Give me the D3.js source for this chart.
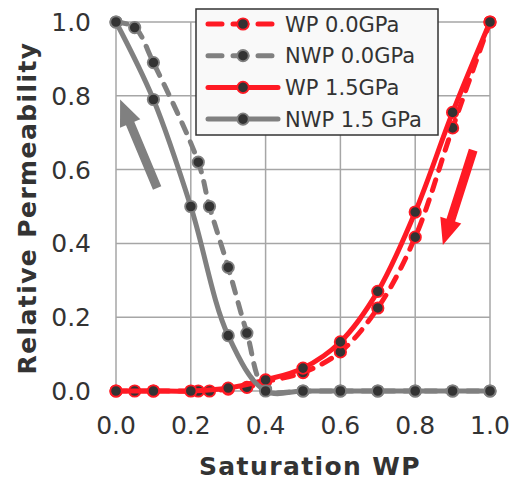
<!DOCTYPE html>
<meta charset="utf-8">
<html>
<head>
    <style>
        body { margin: 0; background: #fff; }
        .grid line { stroke: #a6a6a6; stroke-width: 1.5px; }
        .tick-label { font: 25px "DejaVu Sans", sans-serif; fill: #333; }
        .axis-title { font: bold 25px "DejaVu Sans", sans-serif; fill: #333; letter-spacing: 1.4px; }
        .legend text { font: 21px "DejaVu Sans", sans-serif; fill: #333; }
    </style>
    <script src="https://d3js.org/d3.v7.min.js"></script>
</head>
<body>
<svg id="svg" width="512" height="481"></svg>
<script>

    // saturation values of the two data sets
    var sw00 = [0, 0.05, 0.1, 0.22, 0.25, 0.3, 0.35, 0.4, 0.5, 0.6, 0.7, 0.8, 0.9, 1.0];
    var sw15 = [0, 0.1, 0.2, 0.3, 0.4, 0.5, 0.6, 0.7, 0.8, 0.9, 1.0];

    var wp00  = [0, 0, 0, 0, 0, 0.005, 0.01, 0.025, 0.05, 0.106, 0.225, 0.417, 0.713, 1.0];
    var nwp00 = [1.0, 0.985, 0.89, 0.62, 0.50, 0.335, 0.157, 0.005, 0, 0, 0, 0, 0, 0];
    var wp15  = [0, 0, 0, 0.008, 0.03, 0.062, 0.133, 0.27, 0.485, 0.755, 1.0];
    var nwp15 = [1.0, 0.79, 0.50, 0.15, 0, 0, 0, 0, 0, 0, 0];

    var ticks = [0, 0.2, 0.4, 0.6, 0.8, 1.0];

    // arrows [from, to] in data units
    var grayArrow = [[0.11, 0.55], [0.011, 0.79]];
    var redArrow = [[0.955, 0.653], [0.874, 0.396]];

    var series = [
        {name: "WP 0.0GPa", x: sw00, y: wp00, color: "#ff1a24", dash: true},
        {name: "NWP 0.0GPa", x: sw00, y: nwp00, color: "#808080", dash: true},
        {name: "WP 1.5GPa", x: sw15, y: wp15, color: "#ff1a24", dash: false},
        {name: "NWP 1.5 GPa", x: sw15, y: nwp15, color: "#808080", dash: false}
    ];

    var svg = d3.select("svg"),
        margin = {top: 22, right: 22, bottom: 90, left: 116},
        width = +svg.attr("width") - margin.left - margin.right,
        height = +svg.attr("height") - margin.top - margin.bottom,
        g = svg.append("g").attr("transform", "translate(" + margin.left + "," + margin.top + ")");

    var x = d3.scaleLinear().domain([0, 1]).range([0, width]);
    var y = d3.scaleLinear().domain([0, 1]).range([height, 0]);

    var grid = g.append("g").attr("class", "grid");
    grid.selectAll(".v").data(ticks).enter().append("line")
        .attr("x1", function (d) { return x(d); }).attr("x2", function (d) { return x(d); })
        .attr("y1", 0).attr("y2", height);
    grid.selectAll(".h").data(ticks).enter().append("line")
        .attr("y1", function (d) { return y(d); }).attr("y2", function (d) { return y(d); })
        .attr("x1", 0).attr("x2", width);

    g.selectAll(".xl").data(ticks).enter().append("text")
        .attr("class", "tick-label")
        .attr("x", function (d) { return x(d); })
        .attr("y", height + 43)
        .attr("text-anchor", "middle")
        .text(function (d) { return d.toFixed(1); });

    g.selectAll(".yl").data(ticks).enter().append("text")
        .attr("class", "tick-label")
        .attr("x", -25)
        .attr("y", function (d) { return y(d); })
        .attr("dy", "0.36em")
        .attr("text-anchor", "end")
        .text(function (d) { return d.toFixed(1); });

    svg.append("text").attr("class", "axis-title")
        .attr("x", margin.left + x(0.5) + 7)
        .attr("y", 475)
        .attr("text-anchor", "middle")
        .text("Saturation WP");

    svg.append("text").attr("class", "axis-title")
        .attr("transform", "translate(36,208) rotate(-90)")
        .attr("text-anchor", "middle")
        .text("Relative Permeability");

    // arrows
    function arrowPath(a) {
        var x0 = x(a[0][0]), y0 = y(a[0][1]), x1 = x(a[1][0]), y1 = y(a[1][1]);
        var dx = x1 - x0, dy = y1 - y0, len = Math.sqrt(dx * dx + dy * dy);
        var ux = dx / len, uy = dy / len, nx = -uy, ny = ux;
        var sw = 4.5, hw = 11, hl = 26;
        var bx = x1 - ux * hl, by = y1 - uy * hl;
        var pts = [
            [x0 + nx * sw, y0 + ny * sw],
            [bx + nx * sw, by + ny * sw],
            [bx + nx * hw, by + ny * hw],
            [x1, y1],
            [bx - nx * hw, by - ny * hw],
            [bx - nx * sw, by - ny * sw],
            [x0 - nx * sw, y0 - ny * sw]
        ];
        return "M" + pts.join("L") + "Z";
    }
    g.append("path").attr("d", arrowPath(grayArrow)).attr("fill", "#808080");
    g.append("path").attr("d", arrowPath(redArrow)).attr("fill", "#ff1a24");

    var line = d3.line()
        .x(function (d) { return x(d[0]); })
        .y(function (d) { return y(d[1]); })
        .curve(d3.curveCatmullRom.alpha(0.5));

    series.forEach(function (s) {
        var pts = s.x.map(function (v, i) { return [v, s.y[i]]; });
        g.append("path")
            .attr("d", line(pts))
            .attr("fill", "none")
            .attr("stroke", s.color)
            .attr("stroke-width", 5)
            .attr("stroke-linecap", "round")
            .attr("stroke-dasharray", s.dash ? "11,10" : null);
        g.selectAll(null).data(pts).enter().append("circle")
            .attr("cx", function (d) { return x(d[0]); })
            .attr("cy", function (d) { return y(d[1]); })
            .attr("r", 5.7)
            .attr("fill", "#333")
            .attr("stroke", s.color)
            .attr("stroke-width", 1.8);
    });

    // legend
    var legend = svg.append("g").attr("class", "legend").attr("transform", "translate(196,9)");
    legend.append("rect")
        .attr("width", 242).attr("height", 126)
        .attr("fill", "#f9f9f9").attr("stroke", "#333").attr("stroke-width", 1.5);
    var item = legend.selectAll(".item").data(series).enter().append("g")
        .attr("transform", function (d, i) { return "translate(0," + (15 + i * 31.7) + ")"; });
    item.append("line")
        .attr("x1", 12).attr("x2", 82).attr("y1", 0).attr("y2", 0)
        .attr("stroke", function (d) { return d.color; })
        .attr("stroke-width", 5)
        .attr("stroke-linecap", "round")
        .attr("stroke-dasharray", function (d) { return d.dash ? "14,11" : null; });
    item.append("circle")
        .attr("cx", 47).attr("cy", 0).attr("r", 5.7)
        .attr("fill", "#333")
        .attr("stroke", function (d) { return d.color; })
        .attr("stroke-width", 1.8);
    item.append("text")
        .attr("x", 89).attr("y", 0).attr("dy", "0.36em")
        .text(function (d) { return d.name; });

</script>
</body>
</html>
